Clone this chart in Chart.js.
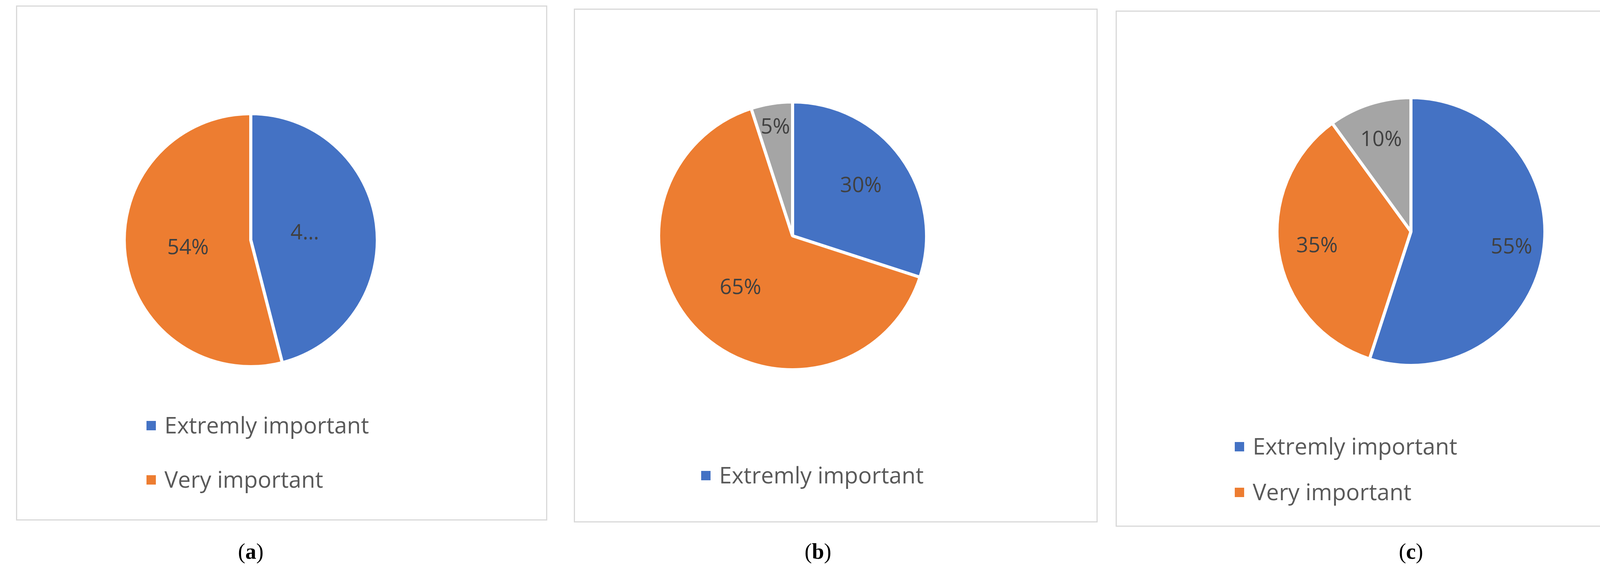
<!DOCTYPE html>
<html><head><meta charset="utf-8">
<script src="https://cdn.jsdelivr.net/npm/chart.js@4.4.1/dist/chart.umd.min.js"></script>
<style>
body{margin:0;width:4266px;height:1470px;background:#fff;position:relative;overflow:hidden;font-family:"Open Sans","Noto Sans",sans-serif}
.box{position:absolute;border:3px solid #d9d9d9;box-sizing:border-box}
.cv{position:absolute}
.leg{position:absolute;font-size:58px;color:#595959;white-space:nowrap;line-height:1}
.leg span{display:inline-block;width:24px;height:24px;margin-right:22px;vertical-align:middle;position:relative;top:-4px}
.cap{position:absolute;font-family:"Liberation Serif",serif;font-size:56px;transform:translateX(-50%);color:#000}
</style></head><body>
<script>
const categories=["Extremly important","Very important","Other"];
const colors=["#4472C4","#ED7D31","#A5A5A5"];
const valuesA=[46,54];
const valuesB=[30,65,5];
const valuesC=[55,35,10];
const labelsA=["4…","54%"];
const labelsB=["30%","65%","5%"];
const labelsC=["55%","35%","10%"];

const panels=[
 {box:[41,14,1360,1319],c:[642,615],r:324,vals:valuesA,labs:labelsA,fr:[0.43,0.5],leg:[[375,1088,0],[375,1227,1]],cap:"a",capx:642},
 {box:[1469,22,1341,1316],c:[2029,604],r:343,vals:valuesB,labs:labelsB,fr:[0.63,0.55,0.82],leg:[[1795,1216,0]],cap:"b",capx:2094},
 {box:[2856,27,1355,1322],c:[3612,593],r:343,vals:valuesC,labs:labelsC,fr:[0.76,0.71,0.72],leg:[[3161,1142,0],[3161,1259,1]],cap:"c",capx:3612}
];
const labelPlugin={id:'lbl',afterDatasetsDraw(ch){
 const ctx=ch.ctx,meta=ch.getDatasetMeta(0),o=ch.options.plugins.lbl;
 ctx.save();ctx.fillStyle="#404040";ctx.font='54px "Open Sans",sans-serif';ctx.textAlign='center';ctx.textBaseline='middle';
 meta.data.forEach((a,i)=>{const ang=(a.startAngle+a.endAngle)/2,f=o.fr[i];
  ctx.fillText(o.labels[i],a.x+Math.cos(ang)*a.outerRadius*f,a.y+Math.sin(ang)*a.outerRadius*f);});
 ctx.restore();}};
panels.forEach(p=>{
 const b=document.createElement('div');b.className='box';
 Object.assign(b.style,{left:p.box[0]+'px',top:p.box[1]+'px',width:p.box[2]+'px',height:p.box[3]+'px'});
 document.body.appendChild(b);
 const s=2*p.r+8;
 const d=document.createElement('div');d.className='cv';
 Object.assign(d.style,{left:(p.c[0]-s/2)+'px',top:(p.c[1]-s/2)+'px',width:s+'px',height:s+'px'});
 const cv=document.createElement('canvas');d.appendChild(cv);document.body.appendChild(d);
 new Chart(cv,{type:'pie',data:{labels:categories.slice(0,p.vals.length),datasets:[{data:p.vals,backgroundColor:colors.slice(0,p.vals.length),borderColor:'#fff',borderWidth:8}]},
  options:{responsive:true,maintainAspectRatio:false,animation:false,layout:{padding:0},
   plugins:{legend:{display:false},tooltip:{enabled:false},lbl:{labels:p.labs,fr:p.fr}}},plugins:[labelPlugin]});
 p.leg.forEach(l=>{const e=document.createElement('div');e.className='leg';
  e.style.left=l[0]+'px';e.style.top=(l[1]-29)+'px';
  e.innerHTML='<span style="background:'+colors[l[2]]+'"></span>'+categories[l[2]];document.body.appendChild(e);});
 const c=document.createElement('div');c.className='cap';c.style.left=p.capx+'px';c.style.top='1380px';
 c.innerHTML='(<b>'+p.cap+'</b>)';document.body.appendChild(c);
});
</script>
</body></html>
